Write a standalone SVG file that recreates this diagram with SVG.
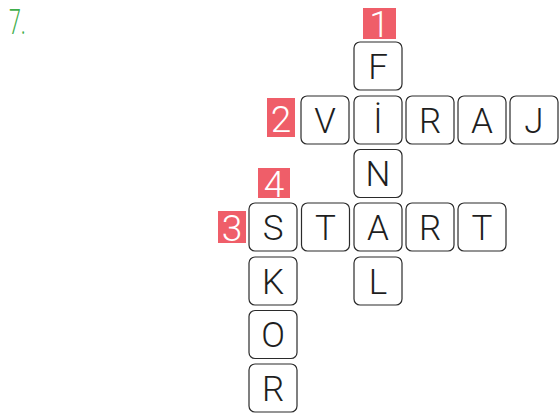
<svg xmlns="http://www.w3.org/2000/svg" width="560" height="414" viewBox="0 0 560 414">
<style>
.c{fill:#fff;stroke:#2b2b2b;stroke-width:1.2}
.l{font-family:Roboto,"Liberation Sans",sans-serif;font-weight:300;font-size:35px;fill:#1e1e1e;text-anchor:middle}
.nb{fill:#ef5e69}
.n{font-family:Roboto,"Liberation Sans",sans-serif;font-weight:300;font-size:37px;fill:#fff;text-anchor:middle}
</style>
<defs>
<rect id="cell" class="c" x="0" y="0" width="48" height="48" rx="6"/>
</defs>
<text x="9" y="33.5" textLength="17" lengthAdjust="spacingAndGlyphs" font-family="Roboto,'Liberation Sans',sans-serif" font-weight="300" font-size="35" fill="#3fae4b">7.</text>
<g id="connectors"></g>
<g id="num1"><rect class="nb" x="363" y="8" width="33" height="31"/><text class="n" x="379.5" y="37">1</text></g>
<g id="num2"><rect class="nb" x="267" y="98" width="28" height="39"/><text class="n" x="281" y="132">2</text></g>
<g id="num4"><rect class="nb" x="258" y="168" width="32" height="30"/><text class="n" x="274" y="197">4</text></g>
<g id="num3"><rect class="nb" x="218" y="211" width="28" height="32"/><text class="n" x="232" y="241">3</text></g>
<g id="F"><use href="#cell" x="354" y="42"/><text class="l" x="378" y="78.5">F</text></g>
<g id="V"><use href="#cell" x="301" y="96"/><text class="l" x="325" y="132.5">V</text></g>
<g id="I"><use href="#cell" x="354" y="96"/><text class="l" x="378" y="132.5">İ</text></g>
<g id="R1"><use href="#cell" x="406" y="96"/><text class="l" x="430" y="132.5">R</text></g>
<g id="A1"><use href="#cell" x="458" y="96"/><text class="l" x="482" y="132.5">A</text></g>
<g id="J"><use href="#cell" x="510" y="96"/><text class="l" x="534" y="132.5">J</text></g>
<g id="N"><use href="#cell" x="354" y="149.5"/><text class="l" x="378" y="186">N</text></g>
<g id="S"><use href="#cell" x="249" y="203"/><text class="l" x="273" y="239.5">S</text></g>
<g id="T1"><use href="#cell" x="301.5" y="203"/><text class="l" x="325.5" y="239.5">T</text></g>
<g id="A2"><use href="#cell" x="354" y="203"/><text class="l" x="378" y="239.5">A</text></g>
<g id="R2"><use href="#cell" x="406" y="203"/><text class="l" x="430" y="239.5">R</text></g>
<g id="T2"><use href="#cell" x="458" y="203"/><text class="l" x="482" y="239.5">T</text></g>
<g id="K"><use href="#cell" x="249" y="257"/><text class="l" x="273" y="293.5">K</text></g>
<g id="L"><use href="#cell" x="354" y="257"/><text class="l" x="378" y="293.5">L</text></g>
<g id="O"><use href="#cell" x="249" y="310.5"/><text class="l" x="273" y="347">O</text></g>
<g id="R3"><use href="#cell" x="249" y="364"/><text class="l" x="273" y="400.5">R</text></g>
</svg>
